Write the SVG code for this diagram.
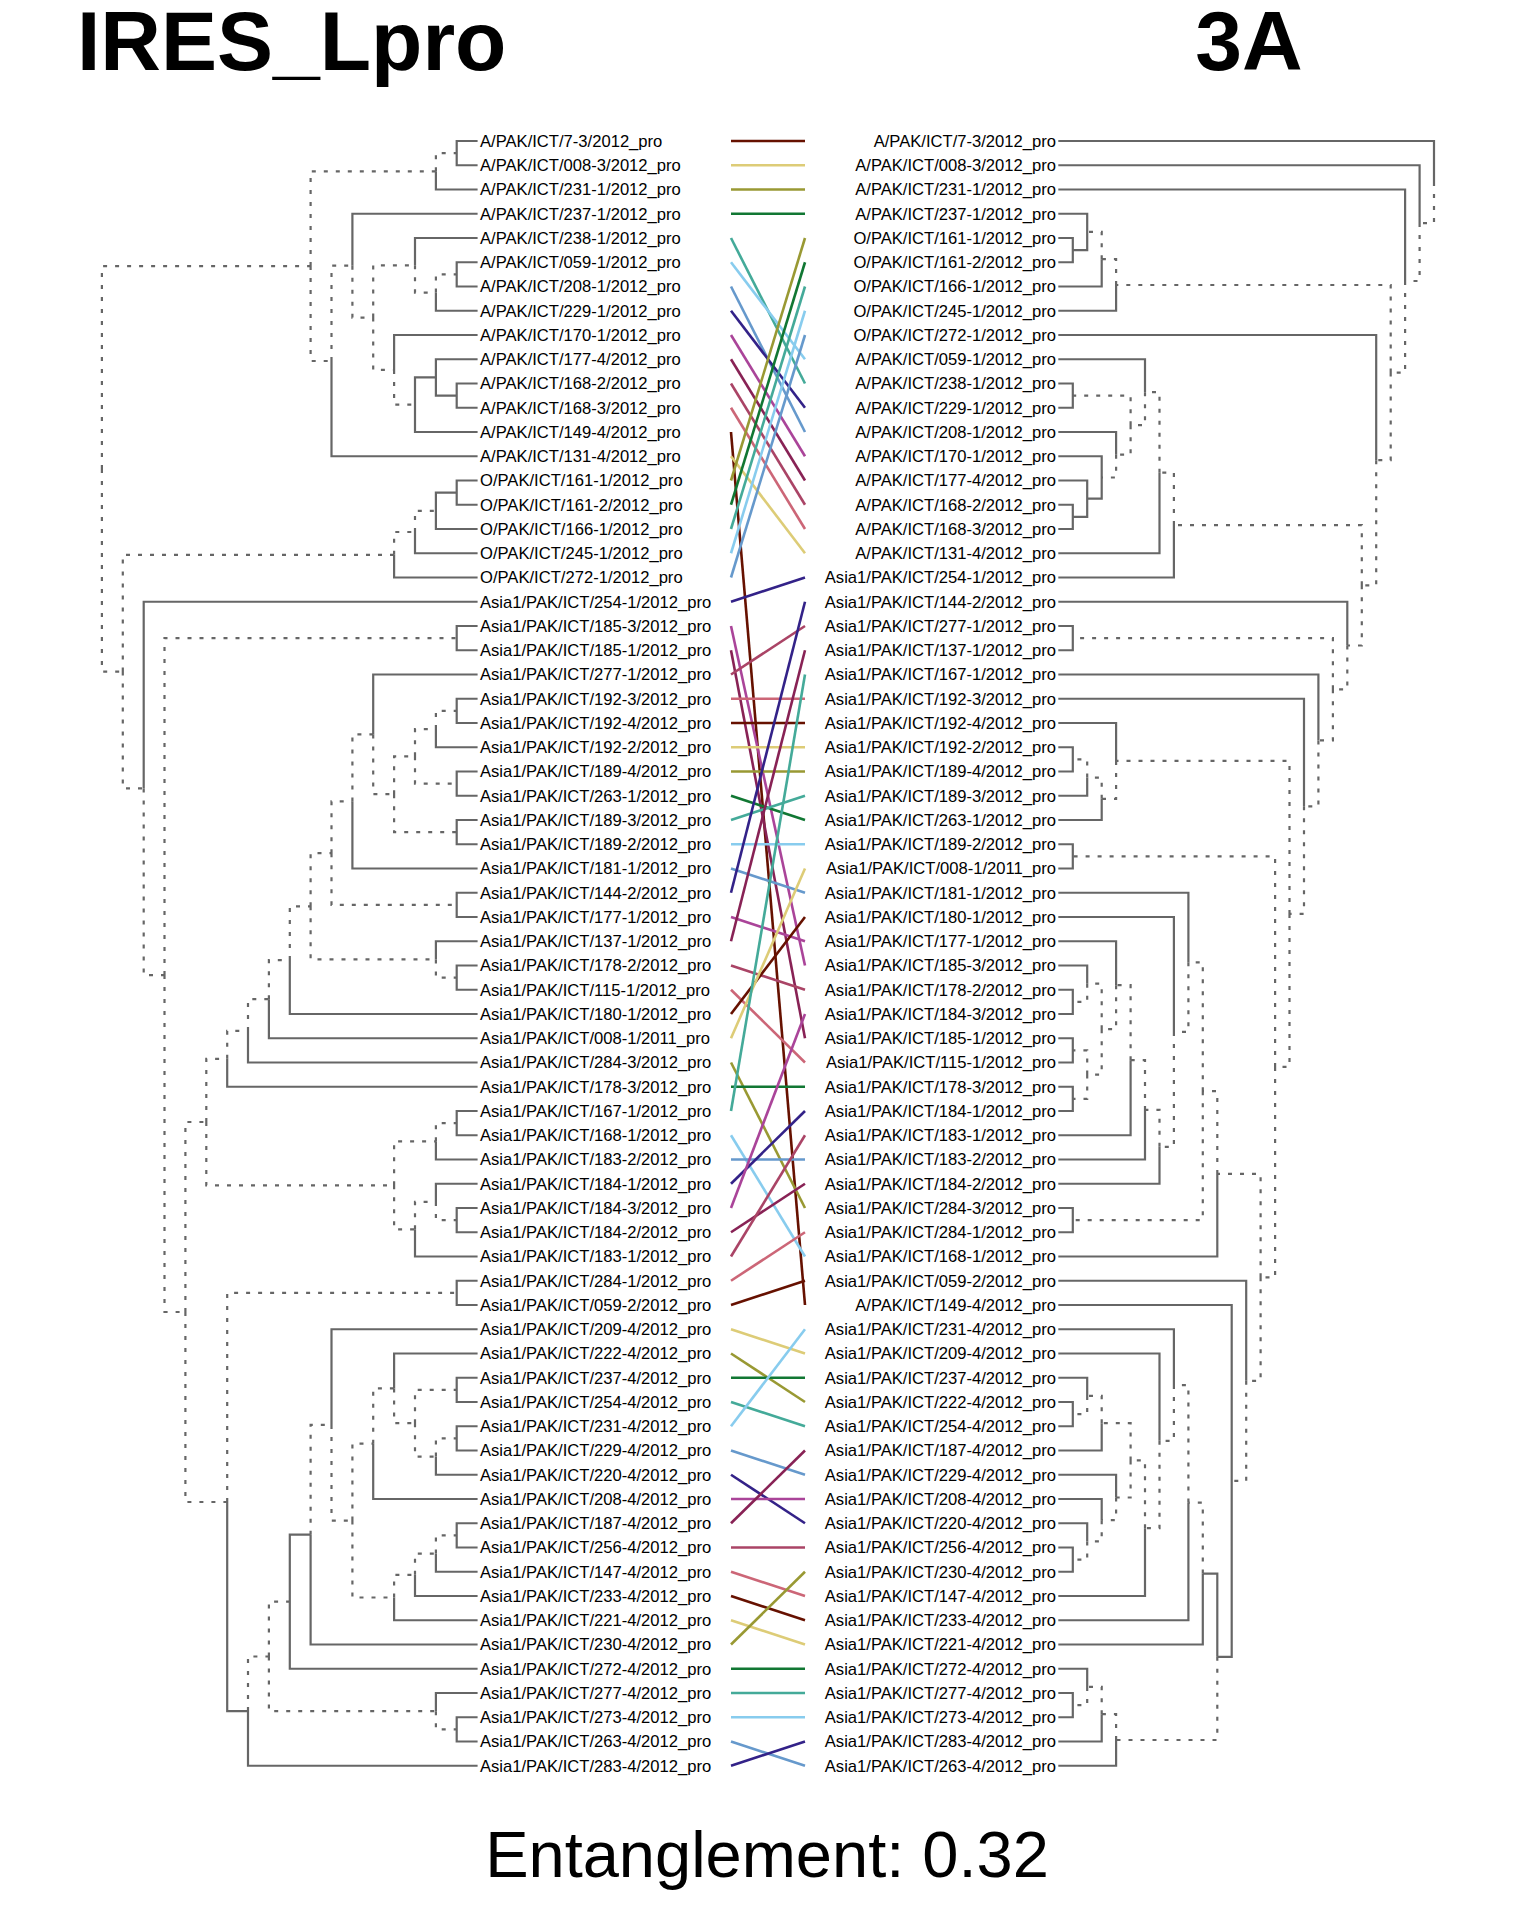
<svg xmlns="http://www.w3.org/2000/svg" width="1536" height="1920" viewBox="0 0 1536 1920">
<style>
.t{font-family:"Liberation Sans",Arial,sans-serif;font-size:16.6px;fill:#000}
.r{text-anchor:end}
.s{fill:none;stroke:#666;stroke-width:2.2}
.d{fill:none;stroke:#666;stroke-width:2.2;stroke-dasharray:4 8}
.ttl{font-family:"Liberation Sans",Arial,sans-serif;font-weight:bold;font-size:84px;fill:#000}
.ent{font-family:"Liberation Sans",Arial,sans-serif;font-size:65px;fill:#000;text-anchor:middle}
#connectors line{stroke-width:2.6}
.k0{stroke:#661100}.k1{stroke:#DDCC77}.k2{stroke:#999933}.k3{stroke:#117733}.k4{stroke:#44AA99}.k5{stroke:#88CCEE}
.k6{stroke:#6699CC}.k7{stroke:#332288}.k8{stroke:#AA4499}.k9{stroke:#882255}.k10{stroke:#AA4466}.k11{stroke:#CC6677}
</style>
<rect width="1536" height="1920" fill="#fff"/>
<text class="ttl" x="77" y="70">IRES_Lpro</text>
<text class="ttl" x="1249" y="70" text-anchor="middle">3A</text>
<text class="ent" x="767" y="1877">Entanglement: 0.32</text>

<g id="left-tree">
<path class="s" d="M456.7 153.1V141H477.6M456.7 153.1V165.25H477.6M435.9 171.3V189.5H477.6M331.5 361V456.25H477.6M352.4 265.7V213.75H477.6M415 265.3V238H477.6M435.9 292.6V310.75H477.6M456.7 274.4V262.25H477.6M456.7 274.4V286.5H477.6M394.1 369.9V335H477.6M415 404.7V377.4H435.9M415 404.7V432H477.6M435.9 377.4V359.25H477.6M435.9 377.4V395.6H456.7M456.7 395.6V383.5H477.6M456.7 395.6V407.75H477.6M394.1 554.8V577.5H477.6M415 532V553.25H477.6M435.9 510.8V492.6H456.7M435.9 510.8V529H477.6M456.7 492.6V480.5H477.6M456.7 492.6V504.75H477.6M143.7 788.4V601.75H477.6M456.7 638.1V626H477.6M456.7 638.1V650.25H477.6M227.2 1058.8V1086.75H477.6M248 1030.9V1062.5H477.6M268.9 999.2V1038.25H477.6M289.8 960.1V1014H477.6M456.7 904.9V892.75H477.6M456.7 904.9V917H477.6M352.4 801.4V868.5H477.6M373.2 734.4V674.5H477.6M456.7 832.1V820H477.6M456.7 832.1V844.25H477.6M456.7 783.6V771.5H477.6M456.7 783.6V795.75H477.6M435.9 729.1V747.25H477.6M456.7 710.9V698.75H477.6M456.7 710.9V723H477.6M435.9 959.4V941.25H477.6M456.7 977.6V965.5H477.6M456.7 977.6V989.75H477.6M435.9 1141.3V1159.5H477.6M456.7 1123.1V1111H477.6M456.7 1123.1V1135.25H477.6M415 1229.3V1256.5H477.6M435.9 1201.9V1183.75H477.6M456.7 1220.1V1208H477.6M456.7 1220.1V1232.25H477.6M227.2 1502V1711.1H248M456.7 1292.9V1280.75H477.6M456.7 1292.9V1305H477.6M248 1711.1V1765.75H477.6M435.9 1711.2V1693H477.6M456.7 1729.4V1717.25H477.6M456.7 1729.4V1741.5H477.6M289.8 1601.7V1534.7H310.6M289.8 1601.7V1668.75H477.6M310.6 1534.7V1644.5H477.6M331.5 1424.9V1329.25H477.6M373.2 1443.7V1499H477.6M394.1 1388.4V1353.5H477.6M456.7 1389.9V1377.75H477.6M456.7 1389.9V1402H477.6M435.9 1456.6V1474.75H477.6M456.7 1438.4V1426.25H477.6M456.7 1438.4V1450.5H477.6M394.1 1597.5V1620.25H477.6M415 1574.8V1596H477.6M435.9 1553.6V1571.75H477.6M456.7 1535.4V1523.25H477.6M456.7 1535.4V1547.5H477.6"/>
<path class="d" d="M101.9 468.9V266.1H310.6M101.9 468.9V671.6H122.8M310.6 266.1V171.3H435.9M310.6 266.1V361H331.5M435.9 171.3V153.1H456.7M331.5 361V265.7H352.4M352.4 265.7V317.6H373.2M373.2 317.6V265.3H415M373.2 317.6V369.9H394.1M415 265.3V292.6H435.9M435.9 292.6V274.4H456.7M394.1 369.9V404.7H415M122.8 671.6V554.8H394.1M122.8 671.6V788.4H143.7M394.1 554.8V532H415M415 532V510.8H435.9M143.7 788.4V975.1H164.5M164.5 975.1V638.1H456.7M164.5 975.1V1312H185.4M185.4 1312V1122H206.3M185.4 1312V1502H227.2M206.3 1122V1058.8H227.2M206.3 1122V1185.3H394.1M227.2 1058.8V1030.9H248M248 1030.9V999.2H268.9M268.9 999.2V960.1H289.8M289.8 960.1V906.3H310.6M310.6 906.3V853.2H331.5M310.6 906.3V959.4H435.9M331.5 853.2V801.4H352.4M331.5 853.2V904.9H456.7M352.4 801.4V734.4H373.2M373.2 734.4V794.2H394.1M394.1 794.2V756.3H415M394.1 794.2V832.1H456.7M415 756.3V729.1H435.9M415 756.3V783.6H456.7M435.9 729.1V710.9H456.7M435.9 959.4V977.6H456.7M394.1 1185.3V1141.3H435.9M394.1 1185.3V1229.3H415M435.9 1141.3V1123.1H456.7M415 1229.3V1201.9H435.9M435.9 1201.9V1220.1H456.7M227.2 1502V1292.9H456.7M248 1711.1V1656.5H268.9M268.9 1656.5V1601.7H289.8M268.9 1656.5V1711.2H435.9M435.9 1711.2V1729.4H456.7M310.6 1534.7V1424.9H331.5M331.5 1424.9V1520.6H352.4M352.4 1520.6V1443.7H373.2M352.4 1520.6V1597.5H394.1M373.2 1443.7V1388.4H394.1M394.1 1388.4V1423.2H415M415 1423.2V1389.9H456.7M415 1423.2V1456.6H435.9M435.9 1456.6V1438.4H456.7M394.1 1597.5V1574.8H415M415 1574.8V1553.6H435.9M435.9 1553.6V1535.4H456.7"/>
</g>

<g id="right-tree">
<path class="s" d="M1434 182.1V141H1058.3M1419.6 223.1V165.25H1058.3M1405.1 281V189.5H1058.3M1116.1 285V310.75H1058.3M1101.7 259.2V286.5H1058.3M1087.2 231.9V213.75H1058.3M1087.2 231.9V250.1H1072.8M1072.8 250.1V238H1058.3M1072.8 250.1V262.25H1058.3M1376.2 460.2V335H1058.3M1173.9 525.1V577.5H1058.3M1159.5 472.7V553.25H1058.3M1145 392.2V359.25H1058.3M1072.8 395.6V383.5H1058.3M1072.8 395.6V407.75H1058.3M1116.1 454.7V432H1058.3M1101.7 477.5V456.25H1058.3M1101.7 477.5V498.7H1087.2M1087.2 498.7V480.5H1058.3M1087.2 498.7V516.9H1072.8M1072.8 516.9V504.75H1058.3M1072.8 516.9V529H1058.3M1347.3 645.5V601.75H1058.3M1072.8 638.1V626H1058.3M1072.8 638.1V650.25H1058.3M1318.4 740.4V674.5H1058.3M1304 806.3V698.75H1058.3M1116.1 760.9V723H1058.3M1101.7 798.8V820H1058.3M1087.2 777.6V795.75H1058.3M1072.8 759.4V747.25H1058.3M1072.8 759.4V771.5H1058.3M1072.8 856.4V844.25H1058.3M1072.8 856.4V868.5H1058.3M1217.3 1173.9V1256.5H1058.3M1072.8 1220.1V1208H1058.3M1072.8 1220.1V1232.25H1058.3M1188.4 962.3V892.75H1058.3M1173.9 1031.9V917H1058.3M1159.5 1146.8V1183.75H1058.3M1145 1109.9V1159.5H1058.3M1130.6 1060.2V1135.25H1058.3M1116.1 985.2V941.25H1058.3M1087.2 983.7V965.5H1058.3M1072.8 1001.9V989.75H1058.3M1072.8 1001.9V1014H1058.3M1072.8 1050.4V1038.25H1058.3M1072.8 1050.4V1062.5H1058.3M1072.8 1098.9V1086.75H1058.3M1072.8 1098.9V1111H1058.3M1246.2 1380.8V1280.75H1058.3M1231.7 1480.9V1305H1058.3M1231.7 1480.9V1656.8H1217.3M1217.3 1656.8V1573.6H1202.8M1202.8 1573.6V1644.5H1058.3M1188.4 1502.6V1620.25H1058.3M1173.9 1385.1V1329.25H1058.3M1159.5 1440.8V1353.5H1058.3M1145 1528.2V1596H1058.3M1101.7 1423.2V1450.5H1058.3M1087.2 1395.9V1377.75H1058.3M1072.8 1414.1V1402H1058.3M1072.8 1414.1V1426.25H1058.3M1116.1 1497.5V1474.75H1058.3M1101.7 1520.2V1499H1058.3M1087.2 1541.4V1523.25H1058.3M1072.8 1559.6V1547.5H1058.3M1072.8 1559.6V1571.75H1058.3M1116.1 1740V1765.75H1058.3M1101.7 1714.2V1741.5H1058.3M1087.2 1686.9V1668.75H1058.3M1072.8 1705.1V1693H1058.3M1072.8 1705.1V1717.25H1058.3"/>
<path class="d" d="M1434 182.1V223.1H1419.6M1419.6 223.1V281H1405.1M1405.1 281V372.6H1390.7M1390.7 372.6V285H1116.1M1390.7 372.6V460.2H1376.2M1116.1 285V259.2H1101.7M1101.7 259.2V231.9H1087.2M1376.2 460.2V585.3H1361.8M1361.8 585.3V525.1H1173.9M1361.8 585.3V645.5H1347.3M1173.9 525.1V472.7H1159.5M1159.5 472.7V392.2H1145M1145 392.2V425.2H1130.6M1130.6 425.2V395.6H1072.8M1130.6 425.2V454.7H1116.1M1116.1 454.7V477.5H1101.7M1347.3 645.5V689.3H1332.9M1332.9 689.3V638.1H1072.8M1332.9 689.3V740.4H1318.4M1318.4 740.4V806.3H1304M1304 806.3V913.9H1289.5M1289.5 913.9V760.9H1116.1M1289.5 913.9V1066.9H1275.1M1116.1 760.9V798.8H1101.7M1101.7 798.8V777.6H1087.2M1087.2 777.6V759.4H1072.8M1275.1 1066.9V856.4H1072.8M1275.1 1066.9V1277.3H1260.6M1260.6 1277.3V1173.9H1217.3M1260.6 1277.3V1380.8H1246.2M1217.3 1173.9V1091.2H1202.8M1202.8 1091.2V962.3H1188.4M1202.8 1091.2V1220.1H1072.8M1188.4 962.3V1031.9H1173.9M1173.9 1031.9V1146.8H1159.5M1159.5 1146.8V1109.9H1145M1145 1109.9V1060.2H1130.6M1130.6 1060.2V985.2H1116.1M1116.1 985.2V1029.2H1101.7M1101.7 1029.2V983.7H1087.2M1101.7 1029.2V1074.6H1087.2M1087.2 983.7V1001.9H1072.8M1087.2 1074.6V1050.4H1072.8M1087.2 1074.6V1098.9H1072.8M1246.2 1380.8V1480.9H1231.7M1217.3 1656.8V1740H1116.1M1202.8 1573.6V1502.6H1188.4M1188.4 1502.6V1385.1H1173.9M1173.9 1385.1V1440.8H1159.5M1159.5 1440.8V1528.2H1145M1145 1528.2V1460.4H1130.6M1130.6 1460.4V1423.2H1101.7M1130.6 1460.4V1497.5H1116.1M1101.7 1423.2V1395.9H1087.2M1087.2 1395.9V1414.1H1072.8M1116.1 1497.5V1520.2H1101.7M1101.7 1520.2V1541.4H1087.2M1087.2 1541.4V1559.6H1072.8M1116.1 1740V1714.2H1101.7M1101.7 1714.2V1686.9H1087.2M1087.2 1686.9V1705.1H1072.8"/>
</g>

<g id="connectors">
<line class="k0" x1="731" y1="141" x2="805" y2="141"/>
<line class="k1" x1="731" y1="165.25" x2="805" y2="165.25"/>
<line class="k2" x1="731" y1="189.5" x2="805" y2="189.5"/>
<line class="k3" x1="731" y1="213.75" x2="805" y2="213.75"/>
<line class="k4" x1="731" y1="238" x2="805" y2="383.5"/>
<line class="k5" x1="731" y1="262.25" x2="805" y2="359.25"/>
<line class="k6" x1="731" y1="286.5" x2="805" y2="432"/>
<line class="k7" x1="731" y1="310.75" x2="805" y2="407.75"/>
<line class="k8" x1="731" y1="335" x2="805" y2="456.25"/>
<line class="k9" x1="731" y1="359.25" x2="805" y2="480.5"/>
<line class="k10" x1="731" y1="383.5" x2="805" y2="504.75"/>
<line class="k11" x1="731" y1="407.75" x2="805" y2="529"/>
<line class="k0" x1="731" y1="432" x2="805" y2="1305"/>
<line class="k1" x1="731" y1="456.25" x2="805" y2="553.25"/>
<line class="k2" x1="731" y1="480.5" x2="805" y2="238"/>
<line class="k3" x1="731" y1="504.75" x2="805" y2="262.25"/>
<line class="k4" x1="731" y1="529" x2="805" y2="286.5"/>
<line class="k5" x1="731" y1="553.25" x2="805" y2="310.75"/>
<line class="k6" x1="731" y1="577.5" x2="805" y2="335"/>
<line class="k7" x1="731" y1="601.75" x2="805" y2="577.5"/>
<line class="k8" x1="731" y1="626" x2="805" y2="965.5"/>
<line class="k9" x1="731" y1="650.25" x2="805" y2="1038.25"/>
<line class="k10" x1="731" y1="674.5" x2="805" y2="626"/>
<line class="k11" x1="731" y1="698.75" x2="805" y2="698.75"/>
<line class="k0" x1="731" y1="723" x2="805" y2="723"/>
<line class="k1" x1="731" y1="747.25" x2="805" y2="747.25"/>
<line class="k2" x1="731" y1="771.5" x2="805" y2="771.5"/>
<line class="k3" x1="731" y1="795.75" x2="805" y2="820"/>
<line class="k4" x1="731" y1="820" x2="805" y2="795.75"/>
<line class="k5" x1="731" y1="844.25" x2="805" y2="844.25"/>
<line class="k6" x1="731" y1="868.5" x2="805" y2="892.75"/>
<line class="k7" x1="731" y1="892.75" x2="805" y2="601.75"/>
<line class="k8" x1="731" y1="917" x2="805" y2="941.25"/>
<line class="k9" x1="731" y1="941.25" x2="805" y2="650.25"/>
<line class="k10" x1="731" y1="965.5" x2="805" y2="989.75"/>
<line class="k11" x1="731" y1="989.75" x2="805" y2="1062.5"/>
<line class="k0" x1="731" y1="1014" x2="805" y2="917"/>
<line class="k1" x1="731" y1="1038.25" x2="805" y2="868.5"/>
<line class="k2" x1="731" y1="1062.5" x2="805" y2="1208"/>
<line class="k3" x1="731" y1="1086.75" x2="805" y2="1086.75"/>
<line class="k4" x1="731" y1="1111" x2="805" y2="674.5"/>
<line class="k5" x1="731" y1="1135.25" x2="805" y2="1256.5"/>
<line class="k6" x1="731" y1="1159.5" x2="805" y2="1159.5"/>
<line class="k7" x1="731" y1="1183.75" x2="805" y2="1111"/>
<line class="k8" x1="731" y1="1208" x2="805" y2="1014"/>
<line class="k9" x1="731" y1="1232.25" x2="805" y2="1183.75"/>
<line class="k10" x1="731" y1="1256.5" x2="805" y2="1135.25"/>
<line class="k11" x1="731" y1="1280.75" x2="805" y2="1232.25"/>
<line class="k0" x1="731" y1="1305" x2="805" y2="1280.75"/>
<line class="k1" x1="731" y1="1329.25" x2="805" y2="1353.5"/>
<line class="k2" x1="731" y1="1353.5" x2="805" y2="1402"/>
<line class="k3" x1="731" y1="1377.75" x2="805" y2="1377.75"/>
<line class="k4" x1="731" y1="1402" x2="805" y2="1426.25"/>
<line class="k5" x1="731" y1="1426.25" x2="805" y2="1329.25"/>
<line class="k6" x1="731" y1="1450.5" x2="805" y2="1474.75"/>
<line class="k7" x1="731" y1="1474.75" x2="805" y2="1523.25"/>
<line class="k8" x1="731" y1="1499" x2="805" y2="1499"/>
<line class="k9" x1="731" y1="1523.25" x2="805" y2="1450.5"/>
<line class="k10" x1="731" y1="1547.5" x2="805" y2="1547.5"/>
<line class="k11" x1="731" y1="1571.75" x2="805" y2="1596"/>
<line class="k0" x1="731" y1="1596" x2="805" y2="1620.25"/>
<line class="k1" x1="731" y1="1620.25" x2="805" y2="1644.5"/>
<line class="k2" x1="731" y1="1644.5" x2="805" y2="1571.75"/>
<line class="k3" x1="731" y1="1668.75" x2="805" y2="1668.75"/>
<line class="k4" x1="731" y1="1693" x2="805" y2="1693"/>
<line class="k5" x1="731" y1="1717.25" x2="805" y2="1717.25"/>
<line class="k6" x1="731" y1="1741.5" x2="805" y2="1765.75"/>
<line class="k7" x1="731" y1="1765.75" x2="805" y2="1741.5"/>
</g>

<g id="left-labels" class="t">
<g id="L1"><text x="480" y="146.8">A/PAK/ICT/7-3/2012_pro</text></g>
<g id="L2"><text x="480" y="171.05">A/PAK/ICT/008-3/2012_pro</text></g>
<g id="L3"><text x="480" y="195.3">A/PAK/ICT/231-1/2012_pro</text></g>
<g id="L4"><text x="480" y="219.55">A/PAK/ICT/237-1/2012_pro</text></g>
<g id="L5"><text x="480" y="243.8">A/PAK/ICT/238-1/2012_pro</text></g>
<g id="L6"><text x="480" y="268.05">A/PAK/ICT/059-1/2012_pro</text></g>
<g id="L7"><text x="480" y="292.3">A/PAK/ICT/208-1/2012_pro</text></g>
<g id="L8"><text x="480" y="316.55">A/PAK/ICT/229-1/2012_pro</text></g>
<g id="L9"><text x="480" y="340.8">A/PAK/ICT/170-1/2012_pro</text></g>
<g id="L10"><text x="480" y="365.05">A/PAK/ICT/177-4/2012_pro</text></g>
<g id="L11"><text x="480" y="389.3">A/PAK/ICT/168-2/2012_pro</text></g>
<g id="L12"><text x="480" y="413.55">A/PAK/ICT/168-3/2012_pro</text></g>
<g id="L13"><text x="480" y="437.8">A/PAK/ICT/149-4/2012_pro</text></g>
<g id="L14"><text x="480" y="462.05">A/PAK/ICT/131-4/2012_pro</text></g>
<g id="L15"><text x="480" y="486.3">O/PAK/ICT/161-1/2012_pro</text></g>
<g id="L16"><text x="480" y="510.55">O/PAK/ICT/161-2/2012_pro</text></g>
<g id="L17"><text x="480" y="534.8">O/PAK/ICT/166-1/2012_pro</text></g>
<g id="L18"><text x="480" y="559.05">O/PAK/ICT/245-1/2012_pro</text></g>
<g id="L19"><text x="480" y="583.3">O/PAK/ICT/272-1/2012_pro</text></g>
<g id="L20"><text x="480" y="607.55">Asia1/PAK/ICT/254-1/2012_pro</text></g>
<g id="L21"><text x="480" y="631.8">Asia1/PAK/ICT/185-3/2012_pro</text></g>
<g id="L22"><text x="480" y="656.05">Asia1/PAK/ICT/185-1/2012_pro</text></g>
<g id="L23"><text x="480" y="680.3">Asia1/PAK/ICT/277-1/2012_pro</text></g>
<g id="L24"><text x="480" y="704.55">Asia1/PAK/ICT/192-3/2012_pro</text></g>
<g id="L25"><text x="480" y="728.8">Asia1/PAK/ICT/192-4/2012_pro</text></g>
<g id="L26"><text x="480" y="753.05">Asia1/PAK/ICT/192-2/2012_pro</text></g>
<g id="L27"><text x="480" y="777.3">Asia1/PAK/ICT/189-4/2012_pro</text></g>
<g id="L28"><text x="480" y="801.55">Asia1/PAK/ICT/263-1/2012_pro</text></g>
<g id="L29"><text x="480" y="825.8">Asia1/PAK/ICT/189-3/2012_pro</text></g>
<g id="L30"><text x="480" y="850.05">Asia1/PAK/ICT/189-2/2012_pro</text></g>
<g id="L31"><text x="480" y="874.3">Asia1/PAK/ICT/181-1/2012_pro</text></g>
<g id="L32"><text x="480" y="898.55">Asia1/PAK/ICT/144-2/2012_pro</text></g>
<g id="L33"><text x="480" y="922.8">Asia1/PAK/ICT/177-1/2012_pro</text></g>
<g id="L34"><text x="480" y="947.05">Asia1/PAK/ICT/137-1/2012_pro</text></g>
<g id="L35"><text x="480" y="971.3">Asia1/PAK/ICT/178-2/2012_pro</text></g>
<g id="L36"><text x="480" y="995.55">Asia1/PAK/ICT/115-1/2012_pro</text></g>
<g id="L37"><text x="480" y="1019.8">Asia1/PAK/ICT/180-1/2012_pro</text></g>
<g id="L38"><text x="480" y="1044.05">Asia1/PAK/ICT/008-1/2011_pro</text></g>
<g id="L39"><text x="480" y="1068.3">Asia1/PAK/ICT/284-3/2012_pro</text></g>
<g id="L40"><text x="480" y="1092.55">Asia1/PAK/ICT/178-3/2012_pro</text></g>
<g id="L41"><text x="480" y="1116.8">Asia1/PAK/ICT/167-1/2012_pro</text></g>
<g id="L42"><text x="480" y="1141.05">Asia1/PAK/ICT/168-1/2012_pro</text></g>
<g id="L43"><text x="480" y="1165.3">Asia1/PAK/ICT/183-2/2012_pro</text></g>
<g id="L44"><text x="480" y="1189.55">Asia1/PAK/ICT/184-1/2012_pro</text></g>
<g id="L45"><text x="480" y="1213.8">Asia1/PAK/ICT/184-3/2012_pro</text></g>
<g id="L46"><text x="480" y="1238.05">Asia1/PAK/ICT/184-2/2012_pro</text></g>
<g id="L47"><text x="480" y="1262.3">Asia1/PAK/ICT/183-1/2012_pro</text></g>
<g id="L48"><text x="480" y="1286.55">Asia1/PAK/ICT/284-1/2012_pro</text></g>
<g id="L49"><text x="480" y="1310.8">Asia1/PAK/ICT/059-2/2012_pro</text></g>
<g id="L50"><text x="480" y="1335.05">Asia1/PAK/ICT/209-4/2012_pro</text></g>
<g id="L51"><text x="480" y="1359.3">Asia1/PAK/ICT/222-4/2012_pro</text></g>
<g id="L52"><text x="480" y="1383.55">Asia1/PAK/ICT/237-4/2012_pro</text></g>
<g id="L53"><text x="480" y="1407.8">Asia1/PAK/ICT/254-4/2012_pro</text></g>
<g id="L54"><text x="480" y="1432.05">Asia1/PAK/ICT/231-4/2012_pro</text></g>
<g id="L55"><text x="480" y="1456.3">Asia1/PAK/ICT/229-4/2012_pro</text></g>
<g id="L56"><text x="480" y="1480.55">Asia1/PAK/ICT/220-4/2012_pro</text></g>
<g id="L57"><text x="480" y="1504.8">Asia1/PAK/ICT/208-4/2012_pro</text></g>
<g id="L58"><text x="480" y="1529.05">Asia1/PAK/ICT/187-4/2012_pro</text></g>
<g id="L59"><text x="480" y="1553.3">Asia1/PAK/ICT/256-4/2012_pro</text></g>
<g id="L60"><text x="480" y="1577.55">Asia1/PAK/ICT/147-4/2012_pro</text></g>
<g id="L61"><text x="480" y="1601.8">Asia1/PAK/ICT/233-4/2012_pro</text></g>
<g id="L62"><text x="480" y="1626.05">Asia1/PAK/ICT/221-4/2012_pro</text></g>
<g id="L63"><text x="480" y="1650.3">Asia1/PAK/ICT/230-4/2012_pro</text></g>
<g id="L64"><text x="480" y="1674.55">Asia1/PAK/ICT/272-4/2012_pro</text></g>
<g id="L65"><text x="480" y="1698.8">Asia1/PAK/ICT/277-4/2012_pro</text></g>
<g id="L66"><text x="480" y="1723.05">Asia1/PAK/ICT/273-4/2012_pro</text></g>
<g id="L67"><text x="480" y="1747.3">Asia1/PAK/ICT/263-4/2012_pro</text></g>
<g id="L68"><text x="480" y="1771.55">Asia1/PAK/ICT/283-4/2012_pro</text></g>
</g>

<g id="right-labels" class="t r">
<g id="R1"><text x="1056" y="146.8">A/PAK/ICT/7-3/2012_pro</text></g>
<g id="R2"><text x="1056" y="171.05">A/PAK/ICT/008-3/2012_pro</text></g>
<g id="R3"><text x="1056" y="195.3">A/PAK/ICT/231-1/2012_pro</text></g>
<g id="R4"><text x="1056" y="219.55">A/PAK/ICT/237-1/2012_pro</text></g>
<g id="R5"><text x="1056" y="243.8">O/PAK/ICT/161-1/2012_pro</text></g>
<g id="R6"><text x="1056" y="268.05">O/PAK/ICT/161-2/2012_pro</text></g>
<g id="R7"><text x="1056" y="292.3">O/PAK/ICT/166-1/2012_pro</text></g>
<g id="R8"><text x="1056" y="316.55">O/PAK/ICT/245-1/2012_pro</text></g>
<g id="R9"><text x="1056" y="340.8">O/PAK/ICT/272-1/2012_pro</text></g>
<g id="R10"><text x="1056" y="365.05">A/PAK/ICT/059-1/2012_pro</text></g>
<g id="R11"><text x="1056" y="389.3">A/PAK/ICT/238-1/2012_pro</text></g>
<g id="R12"><text x="1056" y="413.55">A/PAK/ICT/229-1/2012_pro</text></g>
<g id="R13"><text x="1056" y="437.8">A/PAK/ICT/208-1/2012_pro</text></g>
<g id="R14"><text x="1056" y="462.05">A/PAK/ICT/170-1/2012_pro</text></g>
<g id="R15"><text x="1056" y="486.3">A/PAK/ICT/177-4/2012_pro</text></g>
<g id="R16"><text x="1056" y="510.55">A/PAK/ICT/168-2/2012_pro</text></g>
<g id="R17"><text x="1056" y="534.8">A/PAK/ICT/168-3/2012_pro</text></g>
<g id="R18"><text x="1056" y="559.05">A/PAK/ICT/131-4/2012_pro</text></g>
<g id="R19"><text x="1056" y="583.3">Asia1/PAK/ICT/254-1/2012_pro</text></g>
<g id="R20"><text x="1056" y="607.55">Asia1/PAK/ICT/144-2/2012_pro</text></g>
<g id="R21"><text x="1056" y="631.8">Asia1/PAK/ICT/277-1/2012_pro</text></g>
<g id="R22"><text x="1056" y="656.05">Asia1/PAK/ICT/137-1/2012_pro</text></g>
<g id="R23"><text x="1056" y="680.3">Asia1/PAK/ICT/167-1/2012_pro</text></g>
<g id="R24"><text x="1056" y="704.55">Asia1/PAK/ICT/192-3/2012_pro</text></g>
<g id="R25"><text x="1056" y="728.8">Asia1/PAK/ICT/192-4/2012_pro</text></g>
<g id="R26"><text x="1056" y="753.05">Asia1/PAK/ICT/192-2/2012_pro</text></g>
<g id="R27"><text x="1056" y="777.3">Asia1/PAK/ICT/189-4/2012_pro</text></g>
<g id="R28"><text x="1056" y="801.55">Asia1/PAK/ICT/189-3/2012_pro</text></g>
<g id="R29"><text x="1056" y="825.8">Asia1/PAK/ICT/263-1/2012_pro</text></g>
<g id="R30"><text x="1056" y="850.05">Asia1/PAK/ICT/189-2/2012_pro</text></g>
<g id="R31"><text x="1056" y="874.3">Asia1/PAK/ICT/008-1/2011_pro</text></g>
<g id="R32"><text x="1056" y="898.55">Asia1/PAK/ICT/181-1/2012_pro</text></g>
<g id="R33"><text x="1056" y="922.8">Asia1/PAK/ICT/180-1/2012_pro</text></g>
<g id="R34"><text x="1056" y="947.05">Asia1/PAK/ICT/177-1/2012_pro</text></g>
<g id="R35"><text x="1056" y="971.3">Asia1/PAK/ICT/185-3/2012_pro</text></g>
<g id="R36"><text x="1056" y="995.55">Asia1/PAK/ICT/178-2/2012_pro</text></g>
<g id="R37"><text x="1056" y="1019.8">Asia1/PAK/ICT/184-3/2012_pro</text></g>
<g id="R38"><text x="1056" y="1044.05">Asia1/PAK/ICT/185-1/2012_pro</text></g>
<g id="R39"><text x="1056" y="1068.3">Asia1/PAK/ICT/115-1/2012_pro</text></g>
<g id="R40"><text x="1056" y="1092.55">Asia1/PAK/ICT/178-3/2012_pro</text></g>
<g id="R41"><text x="1056" y="1116.8">Asia1/PAK/ICT/184-1/2012_pro</text></g>
<g id="R42"><text x="1056" y="1141.05">Asia1/PAK/ICT/183-1/2012_pro</text></g>
<g id="R43"><text x="1056" y="1165.3">Asia1/PAK/ICT/183-2/2012_pro</text></g>
<g id="R44"><text x="1056" y="1189.55">Asia1/PAK/ICT/184-2/2012_pro</text></g>
<g id="R45"><text x="1056" y="1213.8">Asia1/PAK/ICT/284-3/2012_pro</text></g>
<g id="R46"><text x="1056" y="1238.05">Asia1/PAK/ICT/284-1/2012_pro</text></g>
<g id="R47"><text x="1056" y="1262.3">Asia1/PAK/ICT/168-1/2012_pro</text></g>
<g id="R48"><text x="1056" y="1286.55">Asia1/PAK/ICT/059-2/2012_pro</text></g>
<g id="R49"><text x="1056" y="1310.8">A/PAK/ICT/149-4/2012_pro</text></g>
<g id="R50"><text x="1056" y="1335.05">Asia1/PAK/ICT/231-4/2012_pro</text></g>
<g id="R51"><text x="1056" y="1359.3">Asia1/PAK/ICT/209-4/2012_pro</text></g>
<g id="R52"><text x="1056" y="1383.55">Asia1/PAK/ICT/237-4/2012_pro</text></g>
<g id="R53"><text x="1056" y="1407.8">Asia1/PAK/ICT/222-4/2012_pro</text></g>
<g id="R54"><text x="1056" y="1432.05">Asia1/PAK/ICT/254-4/2012_pro</text></g>
<g id="R55"><text x="1056" y="1456.3">Asia1/PAK/ICT/187-4/2012_pro</text></g>
<g id="R56"><text x="1056" y="1480.55">Asia1/PAK/ICT/229-4/2012_pro</text></g>
<g id="R57"><text x="1056" y="1504.8">Asia1/PAK/ICT/208-4/2012_pro</text></g>
<g id="R58"><text x="1056" y="1529.05">Asia1/PAK/ICT/220-4/2012_pro</text></g>
<g id="R59"><text x="1056" y="1553.3">Asia1/PAK/ICT/256-4/2012_pro</text></g>
<g id="R60"><text x="1056" y="1577.55">Asia1/PAK/ICT/230-4/2012_pro</text></g>
<g id="R61"><text x="1056" y="1601.8">Asia1/PAK/ICT/147-4/2012_pro</text></g>
<g id="R62"><text x="1056" y="1626.05">Asia1/PAK/ICT/233-4/2012_pro</text></g>
<g id="R63"><text x="1056" y="1650.3">Asia1/PAK/ICT/221-4/2012_pro</text></g>
<g id="R64"><text x="1056" y="1674.55">Asia1/PAK/ICT/272-4/2012_pro</text></g>
<g id="R65"><text x="1056" y="1698.8">Asia1/PAK/ICT/277-4/2012_pro</text></g>
<g id="R66"><text x="1056" y="1723.05">Asia1/PAK/ICT/273-4/2012_pro</text></g>
<g id="R67"><text x="1056" y="1747.3">Asia1/PAK/ICT/283-4/2012_pro</text></g>
<g id="R68"><text x="1056" y="1771.55">Asia1/PAK/ICT/263-4/2012_pro</text></g>
</g>
</svg>
